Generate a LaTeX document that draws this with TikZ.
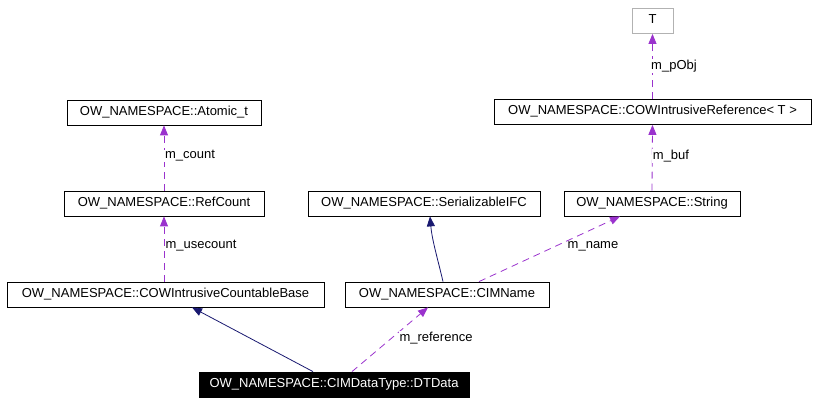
\documentclass[tikz,border=0pt]{standalone}
\usepackage{fontspec}
\setmainfont{Liberation Sans}
\usetikzlibrary{arrows.meta}
\definecolor{purp}{HTML}{9A32CD}
\definecolor{navy}{HTML}{191970}
\begin{document}
\begin{tikzpicture}[x=1pt,y=-1pt,
  box/.style={draw=black,line width=0.8pt,fill=white,minimum height=25pt,inner xsep=2pt,font=\fontsize{13}{15}\selectfont,text height=9pt,text depth=3pt},
  use/.style={draw=purp,dash pattern=on 7pt off 5pt,line width=0.8pt,-{Triangle[length=10pt,width=8pt,fill=purp]}},
  inh/.style={draw=navy,line width=0.8pt,-{Triangle[length=10pt,width=8pt,fill=navy]}},
  lab/.style={font=\fontsize{13}{15}\selectfont,fill=white,inner sep=1pt}]
\useasboundingbox (0,0) rectangle (817,403);
\node[box,draw=gray!60,minimum width=41pt] (T) at (652.5,21) {T};
\node[box,minimum width=317pt] (cr) at (652.5,112) {OW\_NAMESPACE::COWIntrusiveReference< T >};
\node[box,minimum width=194pt] (at) at (164,112.5) {OW\_NAMESPACE::Atomic\_t};
\node[box,minimum width=200pt] (rc) at (164,203.5) {OW\_NAMESPACE::RefCount};
\node[box,minimum width=232pt] (si) at (424,203.5) {OW\_NAMESPACE::SerializableIFC};
\node[box,minimum width=176pt] (st) at (652,203.5) {OW\_NAMESPACE::String};
\node[box,minimum width=317pt] (cb) at (165.5,294.5) {OW\_NAMESPACE::COWIntrusiveCountableBase};
\node[box,minimum width=204pt] (cn) at (447,294.5) {OW\_NAMESPACE::CIMName};
\node[box,fill=black,text=white,minimum width=270pt] (dt) at (334,384.5) {OW\_NAMESPACE::CIMDataType::DTData};
\draw[use] (cr.north) -- (T.south);
\node[lab] (l1) at (674,66) {m\_pObj};
\draw[use] (st.north) -- (cr.south);
\node[lab] (l2) at (671,156) {m\_buf};
\draw[use] (rc.north) -- (at.south);
\node[lab] (l3) at (190,156) {m\_count};
\draw[use] (cb.north -| rc) -- (rc.south);
\node[lab] (l4) at (201,246) {m\_usecount};
\draw[inh] (cn.north) ++(-4,0) .. controls (438,260) and (432,240) .. (si.south -| 430,0);
\draw[use] (cn.north) ++(32,0) -- (st.south -| 620,0);
\node[lab,fill=none] (l5) at (593,246) {m\_name};
\draw[inh] (dt.north) ++(-21,0) -- (cb.south -| 192,0);
\draw[use] (dt.north) ++(18,0) -- (cn.south -| 428,0);
\node[lab] (l6) at (436,338) {m\_reference};
\end{tikzpicture}
\end{document}
